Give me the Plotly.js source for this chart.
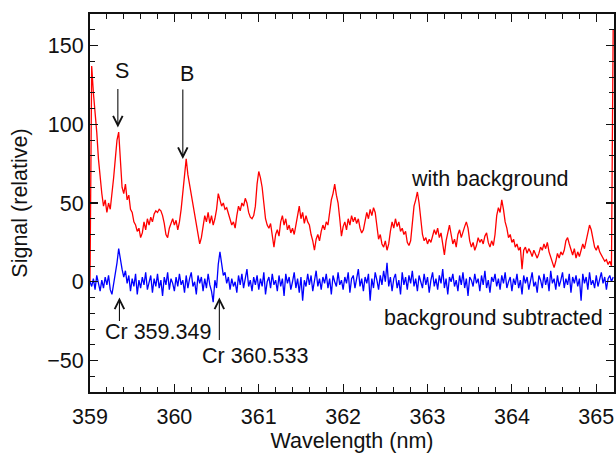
<!DOCTYPE html>
<html>
<head>
<meta charset="utf-8">
<script src="https://cdn.plot.ly/plotly-3.0.1.min.js"></script>
<style>
  html, body { margin: 0; padding: 0; background: #fff; }
  #chart { width: 616px; height: 453px; }
</style>
</head>
<body>
<div id="chart"></div>
<script>
// Sampling grid of the spectrum (nm)
const WL_START = 359.0;
const WL_STEP = 0.02;

// "with background" signal (one value per 0.02 nm)
const withBackground = [
  0,137,120,108,95,78,66,56,48,52,
  44,50,46,55,66,78,90,95,74,60,
  56,62,52,55,46,44,38,36,32,34,
  28,31,38,33,40,36,41,38,43,45,
  44,46,45,42,37,30,28,34,37,40,
  36,39,33,38,46,58,70,78,68,62,
  54,50,44,38,30,24,28,36,42,38,
  44,37,42,36,40,46,56,52,48,50,
  46,47,43,40,36,38,34,42,48,45,
  50,48,53,50,44,41,40,42,48,62,
  70,66,60,50,40,36,34,37,30,22,
  30,33,29,38,42,36,40,33,36,31,
  34,30,36,42,48,40,44,37,42,38,
  36,30,26,20,27,30,26,32,36,33,
  38,36,45,52,56,62,55,50,40,29,
  35,38,33,40,36,42,38,41,37,40,
  34,31,33,40,44,40,46,42,47,44,
  34,27,30,24,22,26,20,24,32,38,
  34,40,35,38,32,34,30,32,25,23,
  26,38,48,52,57,50,40,30,26,28,
  24,27,25,29,33,30,34,28,31,24,
  17,26,32,36,30,24,27,22,30,33,
  28,32,35,38,34,26,22,25,20,23,
  28,25,27,24,29,31,25,22,26,23,
  30,42,47,44,52,46,38,34,28,30,
  25,27,22,24,20,22,8,20,22,18,
  21,19,16,20,17,15,18,22,20,24,
  21,25,19,16,12,9,13,18,15,19,
  17,20,26,28,24,20,17,21,15,19,
  16,20,24,21,26,30,36,33,28,22,
  20,23,19,17,15,13,14,11,13,10,160
];

// "background subtracted" signal
const subtracted = [
  0,-3,2,-5,4,-2,-6,1,-4,3,
  -2,4,-5,-8,-1,3,12,21,13,8,
  3,7,-1,4,-6,2,-3,5,-8,1,
  -4,3,-2,6,-5,0,4,-7,2,-3,
  5,-4,1,-9,3,-2,6,-5,2,-1,
  -6,3,-3,5,-2,1,-7,4,-4,2,
  6,-3,0,-8,4,-1,3,-6,2,-4,
  5,-2,-6,-13,1,-4,11,19,10,4,
  6,-1,3,-5,2,-3,0,-7,4,-2,
  5,-4,2,8,-3,1,-6,3,-2,4,
  -5,2,-3,6,-8,0,3,-4,5,-2,
  1,-6,4,-3,2,-9,5,-1,3,-5,
  0,6,-4,2,-7,3,-12,1,-3,5,
  -2,4,-6,1,7,-3,2,-5,3,-1,
  5,-4,2,-8,4,0,-3,6,-2,1,
  -5,3,-1,6,-7,2,4,-4,1,8,
  -3,2,-6,3,-1,5,-12,2,-4,6,
  1,-5,4,-2,7,0,12,-3,3,-6,
  2,5,-4,1,-8,6,-2,3,-5,4,
  -1,7,-3,2,-6,4,0,-4,5,-2,
  3,-7,1,6,-3,2,-5,4,-1,8,
  -4,2,-8,3,0,5,-3,1,-6,4,
  -2,6,-4,2,-9,3,1,-3,5,-1,
  2,-6,4,-2,7,-4,1,-7,3,0,
  5,-3,2,-5,4,-1,6,-4,0,3,
  -6,2,-2,5,-4,1,-8,4,-1,3,
  -5,2,6,-3,0,-7,4,1,-4,5,
  -2,3,-6,7,-1,2,-5,4,-3,1,
  6,-4,2,-2,5,-7,3,-1,4,-3,
  2,-12,5,-1,3,-5,6,-2,1,-4,
  4,-3,2,6,-1,3,-5,2,4,0,3
];

const xTickVals = [359, 360, 361, 362, 363, 364, 365];
const yTickVals = [-50, 0, 50, 100, 150];

const wavelength = withBackground.map((_, i) => +(WL_START + i * WL_STEP).toFixed(2));

const FONT = 'Arial, "Liberation Sans", Helvetica, sans-serif';
const FS = 21.5;
const INK = '#111';

const traces = [
  { x: wavelength, y: withBackground, type: 'scatter', mode: 'lines',
    line: { color: '#ff0000', width: 1.3 }, name: 'with background', hoverinfo: 'skip' },
  { x: wavelength, y: subtracted, type: 'scatter', mode: 'lines',
    line: { color: '#0000ff', width: 1.3 }, name: 'background subtracted', hoverinfo: 'skip' }
];

const txt = (text, x, y) => ({ text, x, y, xref: 'x', yref: 'y', showarrow: false,
  font: { family: FONT, size: FS, color: INK } });
const arrow = (x, y, ay) => ({ text: '', x, y, xref: 'x', yref: 'y', showarrow: true,
  ax: 0, ay, arrowhead: 5, arrowsize: 1.7, arrowwidth: 1.1, arrowcolor: INK, standoff: 0 });

const layout = {
  width: 616, height: 453,
  margin: { l: 90, r: 2, t: 14, b: 61 },
  paper_bgcolor: '#fff', plot_bgcolor: '#fff',
  showlegend: false,
  font: { family: FONT, size: FS, color: INK },
  xaxis: {
    range: [359, 365.21], tickvals: xTickVals, ticks: 'inside', ticklen: 8, tickwidth: 1.2,
    tickcolor: INK, showline: true, linewidth: 2, linecolor: INK, mirror: 'ticks',
    showgrid: false, zeroline: false, ticklabelstandoff: 4,
    minor: { dtick: 0.2, ticks: 'inside', ticklen: 5, tickwidth: 1, tickcolor: INK, showgrid: false },
    tickfont: { family: FONT, size: FS, color: INK },
    title: { text: 'Wavelength (nm)', font: { family: FONT, size: FS, color: INK }, standoff: 15 }
  },
  yaxis: {
    range: [-70, 170], tickvals: yTickVals, ticks: 'inside', ticklen: 8, tickwidth: 1.2,
    tickcolor: INK, showline: true, linewidth: 2, linecolor: INK, mirror: 'ticks',
    showgrid: false, zeroline: false,
    minor: { dtick: 10, ticks: 'inside', ticklen: 5, tickwidth: 1, tickcolor: INK, showgrid: false },
    tickfont: { family: FONT, size: FS, color: INK },
    title: { text: 'Signal (relative)', font: { family: FONT, size: FS, color: INK }, standoff: 14 }
  },
  annotations: [
    txt('S', 359.38, 134),
    arrow(359.33, 98, -40),
    txt('B', 360.15, 132),
    arrow(360.10, 78, -71),
    arrow(359.349, -10, 25),
    txt('Cr 359.349', 359.81, -32),
    arrow(360.533, -10, 44),
    txt('Cr 360.533', 360.96, -47),
    txt('with background', 363.74, 65),
    txt('background subtracted', 363.78, -23)
  ]
};

Plotly.newPlot('chart', traces, layout, { staticPlot: true, displayModeBar: false });
</script>
</body>
</html>
